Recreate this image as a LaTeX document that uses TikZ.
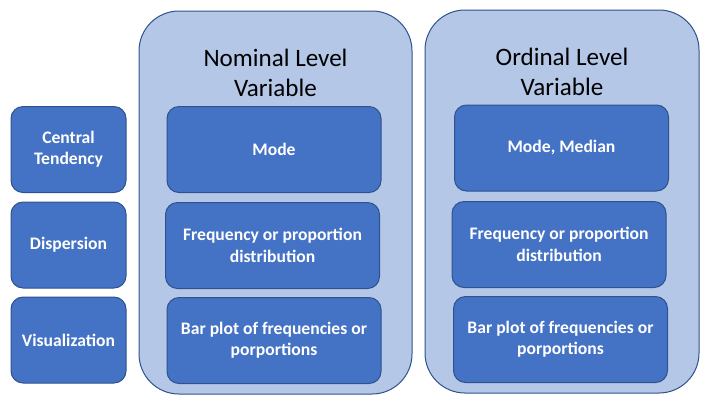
\documentclass[tikz,border=0pt]{standalone}
\usepackage{fontspec}
\setmainfont{Carlito}
\definecolor{darkfill}{HTML}{4472C4}
\definecolor{edgeblue}{HTML}{2F528F}
\definecolor{lightfill}{HTML}{B4C7E7}
\tikzset{
  panel/.style={draw=edgeblue, line width=0.75pt, fill=lightfill, rounded corners=30pt, inner sep=0pt},
  cell/.style={draw=edgeblue, line width=0.75pt, fill=darkfill, rounded corners=9pt, inner sep=2pt,
     text=white, font=\bfseries\fontsize{13.2}{16}\selectfont, align=center},
  rowcell/.style={cell, minimum width=86.25pt, minimum height=64.5pt},
  colcell/.style={cell, minimum width=160.5pt, minimum height=64.5pt},
  paneltitle/.style={font=\fontsize{18.8}{22.5}\selectfont, align=center, text=black}
}
\begin{document}
\begin{tikzpicture}[x=0.75pt,y=-0.75pt]
\useasboundingbox (0,0) rectangle (720,405);
% panels
\node[panel, minimum width=204.75pt, minimum height=287.25pt] (nom) at (275.5,202.5) {};
\node[panel, minimum width=205.5pt, minimum height=287.25pt] (ord) at (562,201.5) {};
\node[paneltitle] (nomt) at (275.5,73) {Nominal Level\\Variable};
\node[paneltitle] (ordt) at (562,72) {Ordinal Level\\Variable};
% row labels
\node[rowcell] (ct) at (68.5,149.5) {Central\\Tendency};
\node[rowcell] (disp) at (68.5,245) {Dispersion};
\node[rowcell] (vis) at (68.5,340) {Visualization};
% nominal cells
\node[colcell] (nmode) at (274,149.5) {Mode};
\node[colcell] (nfreq) at (272.5,245.5) {Frequency or proportion\\distribution};
\node[colcell] (nbar) at (274,340.5) {Bar plot of frequencies or\\porportions};
% ordinal cells
\node[colcell] (omode) at (561.5,148) {Mode, Median};
\node[colcell] (ofreq) at (559,244.5) {Frequency or proportion\\distribution};
\node[colcell] (obar) at (560.5,339.5) {Bar plot of frequencies or\\porportions};
\end{tikzpicture}
\end{document}
